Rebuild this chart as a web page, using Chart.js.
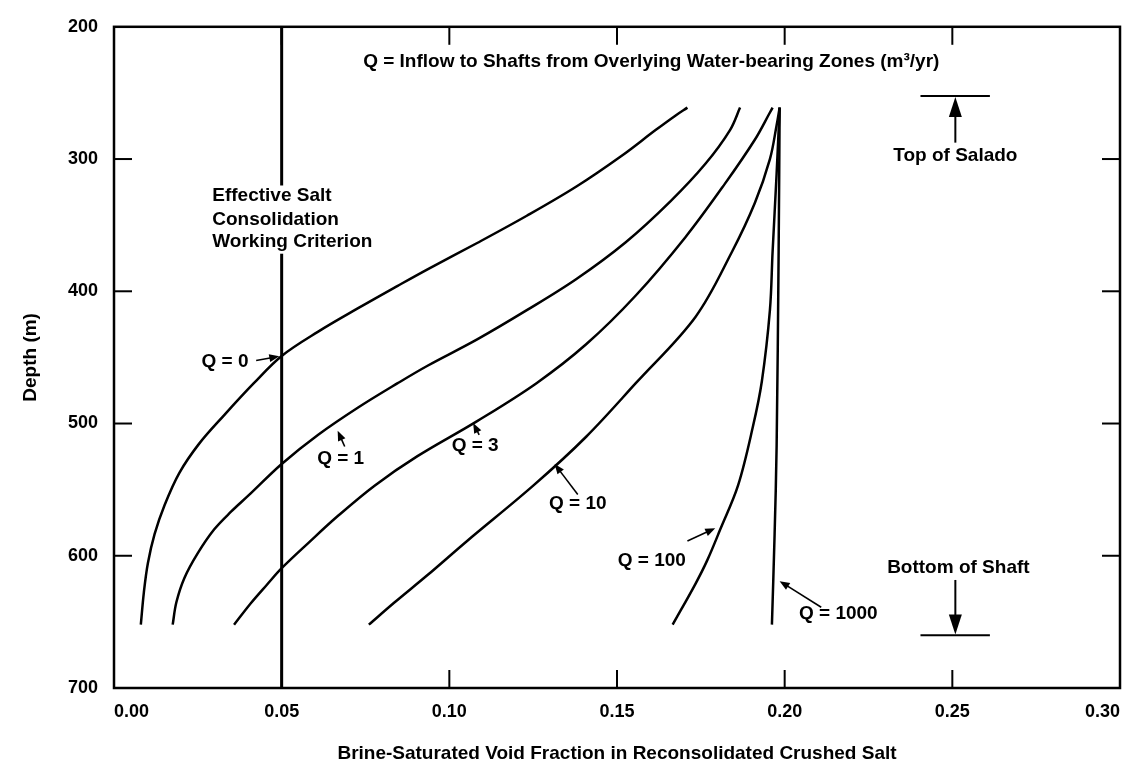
<!DOCTYPE html>
<html><head><meta charset="utf-8">
<script src="https://cdn.jsdelivr.net/npm/chart.js@4.4.0/dist/chart.umd.min.js"></script>
<style>html,body{margin:0;padding:0;background:#fff;}#wrap{width:1133px;height:768px;position:relative;}</style>
</head><body><div id="wrap"><canvas id="c" width="1133" height="768"></canvas></div>
<script>
// ---- data ----
const xTickValues = [0, 0.05, 0.10, 0.15, 0.20, 0.25, 0.30];
const yTickValues = [200, 300, 400, 500, 600, 700];
const seriesNames = ['Q = 0', 'Q = 1', 'Q = 3', 'Q = 10', 'Q = 100', 'Q = 1000'];

const q0Void  = [0.0080, 0.0089, 0.0101, 0.0121, 0.0151, 0.0195, 0.0254, 0.0328, 0.0417, 0.0500, 0.0609, 0.0728, 0.0846, 0.0935, 0.1083, 0.1231, 0.1379, 0.1512, 0.1615, 0.1675, 0.1710];
const q0Depth = [652.1, 627.8, 605.7, 583.7, 561.6, 537.3, 515.2, 493.8, 469.5, 448.9, 430.5, 412.8, 395.9, 383.4, 363.5, 342.9, 320.8, 297.9, 278.1, 267.0, 261.1];
const q1Void  = [0.0175, 0.0186, 0.0210, 0.0249, 0.0299, 0.0349, 0.0402, 0.0500, 0.0609, 0.0728, 0.0846, 0.0935, 0.1083, 0.1231, 0.1379, 0.1527, 0.1660, 0.1763, 0.1837, 0.1867];
const q1Depth = [652.1, 635.2, 616.8, 598.4, 580.0, 566.7, 554.2, 530.6, 508.5, 487.9, 469.5, 456.3, 436.4, 414.3, 390.7, 362.7, 331.8, 303.8, 278.1, 261.1];
const q3Void  = [0.0358, 0.0408, 0.0456, 0.0500, 0.0580, 0.0669, 0.0778, 0.0905, 0.1083, 0.1260, 0.1408, 0.1556, 0.1704, 0.1822, 0.1911, 0.1956, 0.1964];
const q3Depth = [652.1, 635.9, 621.9, 609.4, 590.2, 569.6, 546.8, 524.7, 498.2, 469.5, 440.1, 403.2, 359.1, 318.6, 285.4, 264.8, 261.1];
const q10Void  = [0.0760, 0.0837, 0.0935, 0.1053, 0.1251, 0.1408, 0.1556, 0.1734, 0.1843, 0.1911, 0.1956, 0.1976, 0.1985];
const q10Depth = [652.1, 635.2, 614.6, 588.8, 546.8, 510.0, 469.5, 419.4, 370.1, 333.3, 300.1, 274.4, 261.1];
const q100Void  = [0.1666, 0.1734, 0.1769, 0.1808, 0.1861, 0.1905, 0.1932, 0.1956, 0.1964, 0.1976, 0.1985];
const q100Depth = [652.1, 621.2, 603.5, 580.0, 546.8, 502.7, 468.0, 414.3, 370.1, 311.2, 261.1];
const q1000Void  = [0.1962, 0.1970, 0.1976, 0.1982, 0.1985];
const q1000Depth = [652.1, 583.7, 517.4, 370.1, 261.1];
const criterionVoid  = [0.05, 0.05];
const criterionDepth = [200, 700];

const curveVoids  = [q0Void, q1Void, q3Void, q10Void, q100Void, q1000Void];
const curveDepths = [q0Depth, q1Depth, q3Depth, q10Depth, q100Depth, q1000Depth];

const FONT = '"Liberation Sans", Arial, Helvetica, sans-serif';
const toPts = (xs, ys) => xs.map((v, i) => ({x: v, y: ys[i]}));

const datasets = curveVoids.map((xs, i) => ({
  label: seriesNames[i], data: toPts(xs, curveDepths[i]), showLine: true,
  borderColor: '#000', borderWidth: 2.5, pointRadius: 0, tension: 0.35, fill: false
}));
datasets.push({label: 'criterion', data: toPts(criterionVoid, criterionDepth), showLine: true,
  borderColor: '#000', borderWidth: 3, pointRadius: 0, tension: 0});

// ---- annotation plugin (positions in data coordinates) ----
function arrow(ctx, x1, y1, x2, y2, L, W) {
  L = L || 10; W = W || 4;
  const a = Math.atan2(y2 - y1, x2 - x1);
  ctx.beginPath(); ctx.moveTo(x1, y1); ctx.lineTo(x2 - (L - 2) * Math.cos(a), y2 - (L - 2) * Math.sin(a)); ctx.stroke();
  ctx.beginPath();
  ctx.moveTo(x2, y2);
  ctx.lineTo(x2 - L*Math.cos(a) + W*Math.sin(a), y2 - L*Math.sin(a) - W*Math.cos(a));
  ctx.lineTo(x2 - L*Math.cos(a) - W*Math.sin(a), y2 - L*Math.sin(a) + W*Math.cos(a));
  ctx.closePath(); ctx.fill();
}
const decor = {
  id: 'decor',
  afterDraw(chart) {
    const {ctx, chartArea: ca, scales: {x, y}} = chart;
    const X = v => x.getPixelForValue(v), Y = v => y.getPixelForValue(v);
    ctx.save();
    ctx.strokeStyle = '#000'; ctx.fillStyle = '#000';
    // frame
    ctx.lineWidth = 2.5;
    ctx.strokeRect(ca.left, ca.top, ca.right - ca.left, ca.bottom - ca.top);
    // inward ticks
    ctx.lineWidth = 2;
    xTickValues.slice(1, -1).forEach(v => {
      const px = X(v);
      ctx.beginPath(); ctx.moveTo(px, ca.bottom); ctx.lineTo(px, ca.bottom - 18); ctx.stroke();
      ctx.beginPath(); ctx.moveTo(px, ca.top); ctx.lineTo(px, ca.top + 18); ctx.stroke();
    });
    yTickValues.slice(1, -1).forEach(v => {
      const py = Y(v);
      ctx.beginPath(); ctx.moveTo(ca.left, py); ctx.lineTo(ca.left + 18, py); ctx.stroke();
      ctx.beginPath(); ctx.moveTo(ca.right, py); ctx.lineTo(ca.right - 18, py); ctx.stroke();
    });
    // text helpers
    ctx.font = 'bold 19px ' + FONT; ctx.textBaseline = 'middle';
    const txt = (s, vx, vy, al) => { ctx.textAlign = al || 'center'; ctx.fillText(s, X(vx), Y(vy)); };
    // title
    txt('Q = Inflow to Shafts from Overlying Water-bearing Zones (m\u00B3/yr)', 0.0743, 226.5, 'left');
    // criterion label with white background over the vertical line
    ctx.fillStyle = '#fff';
    ctx.fillRect(X(0.0275), Y(320), X(0.0800) - X(0.0275), Y(371.6) - Y(320));
    ctx.fillStyle = '#000';
    txt('Effective Salt', 0.0293, 328.1, 'left');
    txt('Consolidation', 0.0293, 345.8, 'left');
    txt('Working Criterion', 0.0293, 362.7, 'left');
    // curve labels with pointer arrows
    ctx.lineWidth = 1.6;
    txt('Q = 0', 0.0331, 453.3);
    arrow(ctx, X(0.0424), Y(452.4), X(0.0493), Y(449.1));
    txt('Q = 1', 0.0676, 526.6);
    arrow(ctx, X(0.0688), Y(517.4), X(0.0667), Y(505.5));
    txt('Q = 3', 0.1077, 516.6);
    arrow(ctx, X(0.1089), Y(508.5), X(0.1071), Y(499.7));
    txt('Q = 10', 0.1383, 560.8);
    arrow(ctx, X(0.1383), Y(553.7), X(0.1314), Y(530.6));
    txt('Q = 100', 0.1604, 603.5);
    arrow(ctx, X(0.1710), Y(588.8), X(0.1793), Y(579.2));
    txt('Q = 1000', 0.2160, 644.0);
    arrow(ctx, X(0.2109), Y(638.9), X(0.1985), Y(619.2));
    // Top of Salado
    ctx.lineWidth = 2;
    ctx.beginPath(); ctx.moveTo(X(0.2405), Y(252.3)); ctx.lineTo(X(0.2612), Y(252.3)); ctx.stroke();
    arrow(ctx, X(0.2509), Y(287.6), X(0.2509), Y(253.0), 20, 6.5);
    txt('Top of Salado', 0.2509, 297.2);
    // Bottom of Shaft
    ctx.beginPath(); ctx.moveTo(X(0.2405), Y(660.2)); ctx.lineTo(X(0.2612), Y(660.2)); ctx.stroke();
    arrow(ctx, X(0.2509), Y(618.3), X(0.2509), Y(659.5), 20, 6.5);
    txt('Bottom of Shaft', 0.2518, 609.4);
    ctx.restore();
  }
};

new Chart(document.getElementById('c'), {
  type: 'scatter',
  data: {datasets},
  options: {
    responsive: false, animation: false, devicePixelRatio: 1,
    layout: {padding: {top: 9, right: 5, left: 0, bottom: 0}},
    plugins: {legend: {display: false}, tooltip: {enabled: false}},
    scales: {
      x: {
        type: 'linear', min: 0, max: 0.30,
        afterBuildTicks: s => { s.ticks = xTickValues.map(v => ({value: v})); },
        afterFit: s => { s.height = 80; },
        grid: {display: false, drawTicks: false},
        border: {display: false},
        ticks: {color: '#000', align: 'inner', padding: 13, maxRotation: 0,
          font: {family: FONT, size: 18, weight: 'bold'},
          callback: v => Number(v).toFixed(2)},
        title: {display: true, text: 'Brine-Saturated Void Fraction in Reconsolidated Crushed Salt',
          color: '#000', font: {family: FONT, size: 19, weight: 'bold'}, padding: {top: 0, bottom: 3}}
      },
      y: {
        type: 'linear', min: 200, max: 700, reverse: true,
        afterBuildTicks: s => { s.ticks = yTickValues.map(v => ({value: v})); },
        afterFit: s => { s.width = 114; },
        grid: {display: false, drawTicks: false},
        border: {display: false},
        ticks: {color: '#000', padding: 16, font: {family: FONT, size: 18, weight: 'bold'}},
        title: {display: true, text: 'Depth (m)', color: '#000',
          font: {family: FONT, size: 19, weight: 'bold'}, padding: {top: 19, bottom: 0}}
      }
    }
  },
  plugins: [decor]
});
</script></body></html>
